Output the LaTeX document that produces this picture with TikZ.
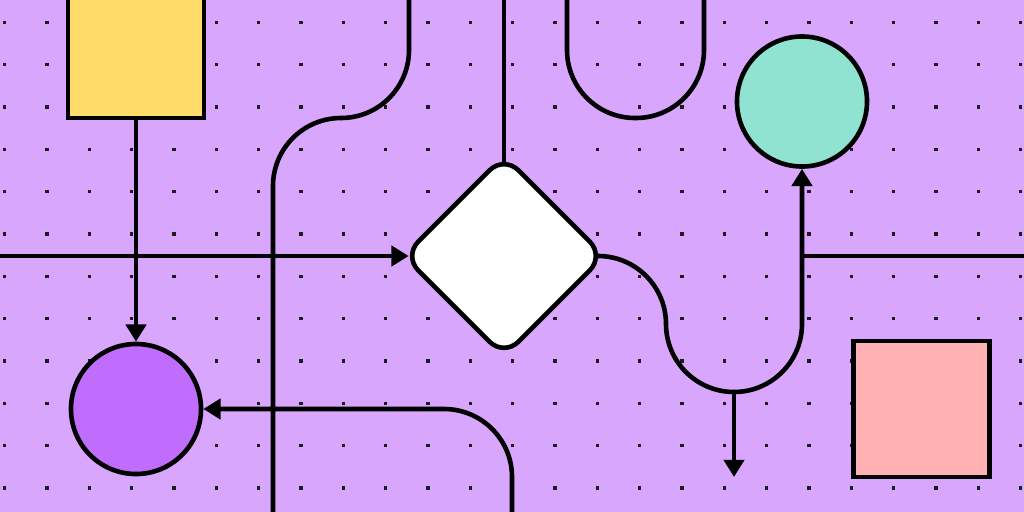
\documentclass[tikz,border=0pt]{standalone}
\usetikzlibrary{shapes.geometric,arrows.meta,backgrounds}

\definecolor{canvas}{HTML}{D9A6FE}
\definecolor{speck}{HTML}{1C1C1C}
\definecolor{sun}{HTML}{FFDC6A}
\definecolor{plum}{HTML}{C06DFE}
\definecolor{mint}{HTML}{8FE3D0}
\definecolor{rose}{HTML}{FFB1B4}

\tikzstyle{vertex}=[draw=black,line width=0.115cm,inner sep=0pt]
\tikzstyle{box vertex} = [vertex, rectangle, minimum size=3.4cm]
\tikzstyle{round vertex} = [vertex, circle, minimum size=3.25cm]
\tikzstyle{choice vertex} = [vertex, diamond, fill=white, minimum size=5.05cm, rounded corners=0.5cm]
\tikzstyle{edge} = [draw,line width=0.115cm,black,rounded corners=1.7cm]
\tikzstyle{flow edge} = [edge,-{Triangle[length=0.43cm,width=0.5cm]}]

\begin{document}
\begin{tikzpicture}[x=0.025cm, y=-0.025cm]
    \useasboundingbox (0,0) rectangle (1024,512);
    \clip (0,0) rectangle (1024,512);
    % First we draw the shapes
    \foreach \pos/\name/\colour in {{(136,50)/Plan/sun},{(921.5,409)/Stop/rose}}
    \node[box vertex, fill=\colour] (\name) at \pos {};
    \foreach \pos/\name/\colour in {{(136,409)/Start/plum},{(802,101.5)/Done/mint}}
    \node[round vertex, fill=\colour] (\name) at \pos {};
    \node[choice vertex] (Choice) at (504,256) {};
    % Free ends of the lines
    \coordinate (West) at (0,256); \coordinate (East) at (1024,256);
    \coordinate (Top) at (504,0); \coordinate (Joint) at (802,256);
    \coordinate (Dip) at (734,392); \coordinate (Drop) at (734,477);
    \coordinate (Foot) at (512,512); \coordinate (Root) at (273,512);
    \coordinate (Crown) at (409,0);
    \coordinate (LoopA) at (567,0); \coordinate (LoopB) at (704,0);
    \begin{scope}[on background layer]
        \clip (0,0) rectangle (1024,512);
        \fill[canvas] (0,0) rectangle (1024,512);
        % Dot grid
        \foreach \i in {0,...,24}
        \foreach \j in {0,...,11}
        \fill[speck] (4.7+42.33*\i-1.6, 22.3+42.33*\j-1.6) rectangle ++(3.2,3.2);
        % Then the lines
        \path[flow edge] (Plan) -- (Start);
        \path[flow edge, shorten >=-0.2cm] (West) -- (Choice.west);
        \path[edge] (Choice.center) -- (Top);
        \path[flow edge] (Choice.center) -- ++(162,0) -- ++(0,136) -- ++(136,0) -- (Done.south);
        \path[flow edge] (Dip) -- (Drop);
        \path[edge] (East) -- (Joint);
        \path[flow edge] (Foot) -- ++(0,-103) -- (Start.east);
        \path[edge] (Root) -- ++(0,-394) -- ++(136,0) -- (Crown);
        \path[edge] (LoopA) -- ++(0,118) -- ++(137,0) -- (LoopB);
    \end{scope}
\end{tikzpicture}
\end{document}
